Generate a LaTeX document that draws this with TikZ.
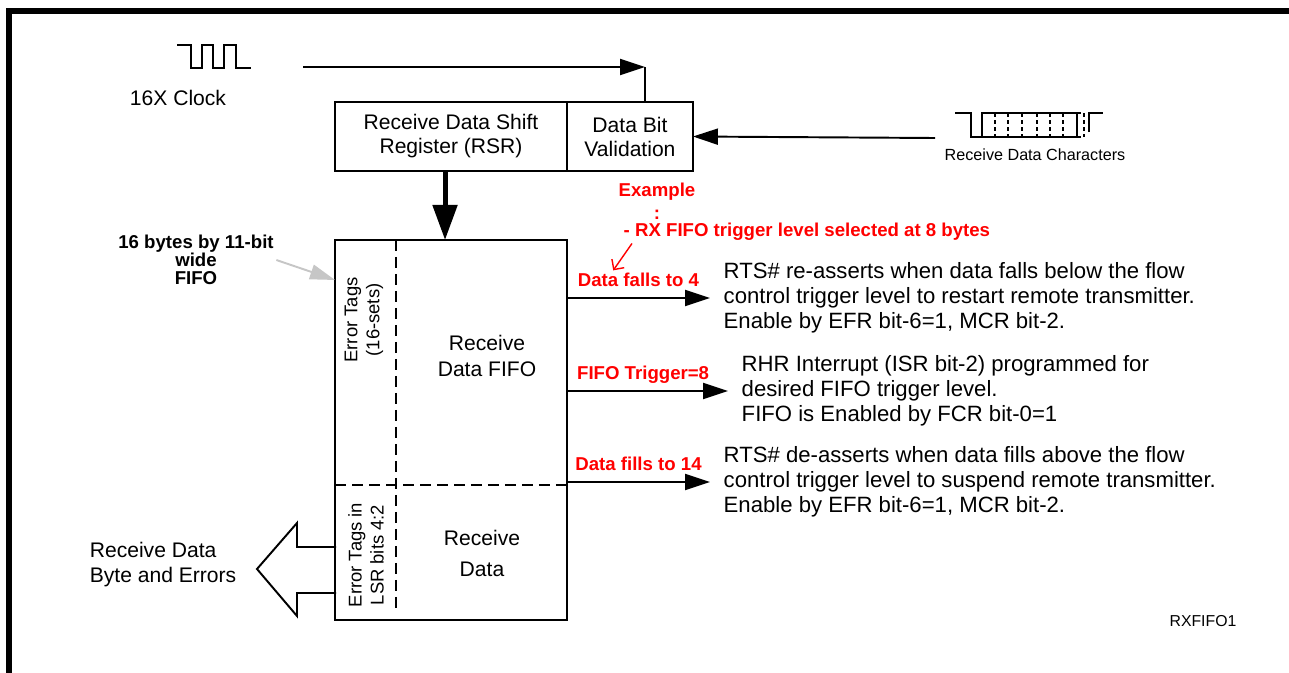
\documentclass[tikz,border=0pt]{standalone}
\usepackage{fontspec}
\setmainfont{Liberation Sans}
\usetikzlibrary{positioning,calc,arrows.meta}

\begin{document}
\begin{tikzpicture}[x=0.02cm, y=-0.02cm, line width=1.1pt,
    box/.style={draw, rectangle, outer sep=0pt, inner sep=2pt, align=center, font=\fontsize{12}{13.7}\selectfont},
    note/.style={anchor=west, align=left, inner sep=1pt, font=\fontsize{12.6}{14.1}\selectfont},
    redlbl/.style={text=red, inner sep=1pt, font=\bfseries\fontsize{10.6}{12}\selectfont},
    flow/.style={-{Triangle[length=0.5cm, width=0.32cm]}},
    wave/.style={line width=0.85pt},
  ]
    \useasboundingbox (0,0) rectangle (1289,673);
    % frame
    \draw[line width=3.4pt] (9,673) -- (9,11) -- (1289,11);

    % clock input
    \draw[wave] (177,45) -- (191,45) -- (191,68) -- (202,68) -- (202,45) -- (213,45) -- (213,68)
        -- (224,68) -- (224,45) -- (236,45) -- (236,68) -- (251,68);
    \node[font=\fontsize{12}{14}\selectfont] (clklbl) at (178,98) {16X Clock};

    % registers
    \node[box, minimum width=4.64cm, minimum height=1.38cm] (rsr) at (451,136.5) {Receive Data Shift\\Register (RSR)};
    \node[box, minimum width=2.52cm, minimum height=1.38cm, right=0pt of rsr] (dbv) {Data Bit\\Validation};
    \node[box, minimum width=4.64cm, minimum height=7.6cm, below=1.38cm of rsr] (fifo) {};

    \coordinate (clkout) at (303,67);
    \coordinate (clkbend) at (645,67);
    \draw[flow] (clkout) -- (clkbend);
    \draw (clkbend) -- (clkbend |- dbv.north);

    % serial data input
    \draw[wave] (955,113) -- (971,113) -- (971,137) -- (982,137) -- (982,113) -- (1077,113) -- (1077,137) -- (982,137);
    \foreach \x in {995,1008,1022,1037,1050,1063}
        \draw[wave, dash pattern=on 2.5pt off 1.5pt] (\x,113) -- (\x,137);
    \draw[wave, dash pattern=on 2.5pt off 1.5pt] (1077,113) -- (1084,113) (1077,137) -- (1084,137) (1084,113) -- (1084,137);
    \draw[wave] (1089,132) -- (1089,113) -- (1103,113);
    \node[font=\fontsize{9.2}{11}\selectfont] (rxchar) at (1035,155) {Receive Data Characters};
    \coordinate (rxin) at (935,138);
    \draw[flow] (rxin) -- (dbv.east);

    \draw[line width=0.1cm, -{Triangle[length=0.7cm, width=0.48cm]}] ([xshift=-3.4pt]rsr.south) -- ([xshift=-3.4pt]fifo.north);

    % fifo inside
    \draw[dash pattern=on 0.22cm off 0.12cm] ($(fifo.north west)+(61,0)$) -- ($(fifo.south west)+(61,-8)$);
    \draw[dash pattern=on 0.22cm off 0.12cm] ($(fifo.north west)+(0,245)$) -- ($(fifo.north east)+(0,245)$);
    \node[rotate=90, align=center, font=\fontsize{10.5}{12.5}\selectfont] (tagsfifo) at (364,320) {Error Tags\\(16-sets)};
    \node[rotate=90, align=center, font=\fontsize{10.5}{12.5}\selectfont] (tagslsr) at (366,555) {Error Tags in\\LSR bits 4:2};
    \node[align=center, font=\fontsize{12}{14.8}\selectfont] (fifotxt) at (487,356) {Receive\\Data FIFO};
    \node[align=center, font=\fontsize{12}{17.6}\selectfont] (rxdata) at (482,553) {Receive\\Data};

    % output
    \draw (336,547) -- (297,547) -- (297,523) -- (257,569) -- (297,616) -- (297,593) -- (336,593);
    \node[anchor=west, align=left, font=\fontsize{12}{14.2}\selectfont] (rxout) at (83,565) {Receive Data\\Byte and Errors};

    \node[align=center, inner sep=1pt, font=\bfseries\fontsize{10.6}{10.4}\selectfont] (fifosize) at (196,260) {16 bytes by 11-bit\\wide\\FIFO};
    \draw[draw=gray!45, -{Triangle[length=0.5cm, width=0.3cm, fill=gray!45]}] (fifosize.east) -- ($(fifo.north west)+(0,40)$);

    % trigger levels
    \node[redlbl, align=center, font=\bfseries\fontsize{10.6}{13}\selectfont] (example) at (657,201) {Example\\:};
    \node[redlbl, anchor=west] (trigsel) at (621,232) {- RX FIFO trigger level selected at 8 bytes};

    \node[note] (note1) at (721,298) {RTS\# re-asserts when data falls below the flow\\control trigger level to restart remote transmitter.\\Enable by EFR bit-6=1, MCR bit-2.};
    \node[note] (note2) at (739,391) {RHR Interrupt (ISR bit-2) programmed for\\desired FIFO trigger level.\\FIFO is Enabled by FCR bit-0=1};
    \node[note] (note3) at (721,482) {RTS\# de-asserts when data fills above the flow\\control trigger level to suspend remote transmitter.\\Enable by EFR bit-6=1, MCR bit-2.};

    \draw[flow] (fifo.east |- note1.west) -- node[midway, redlbl, anchor=base, yshift=6.5pt] (falls) {Data falls to 4} ($(note1.west)+(-11,0)$);
    \draw[flow] (fifo.east |- note2.west) -- node[midway, redlbl, anchor=base, xshift=-2.5pt, yshift=6.5pt] (trig) {FIFO Trigger=8} ($(note2.west)+(-11,0)$);
    \draw[flow] (fifo.east |- note3.west) -- node[midway, redlbl, anchor=base, yshift=6.5pt] (fills) {Data fills to 14} ($(note3.west)+(-11,0)$);

    \draw[red, line width=0.8pt, -{Straight Barb[length=0.15cm, width=0.3cm]}] ($(trigsel.south west)+(11,0)$) -- ($(falls.north west)+(38,0)$);

    \node[font=\fontsize{9}{11}\selectfont] (figid) at (1203,621) {RXFIFO1};
\end{tikzpicture}
\end{document}
